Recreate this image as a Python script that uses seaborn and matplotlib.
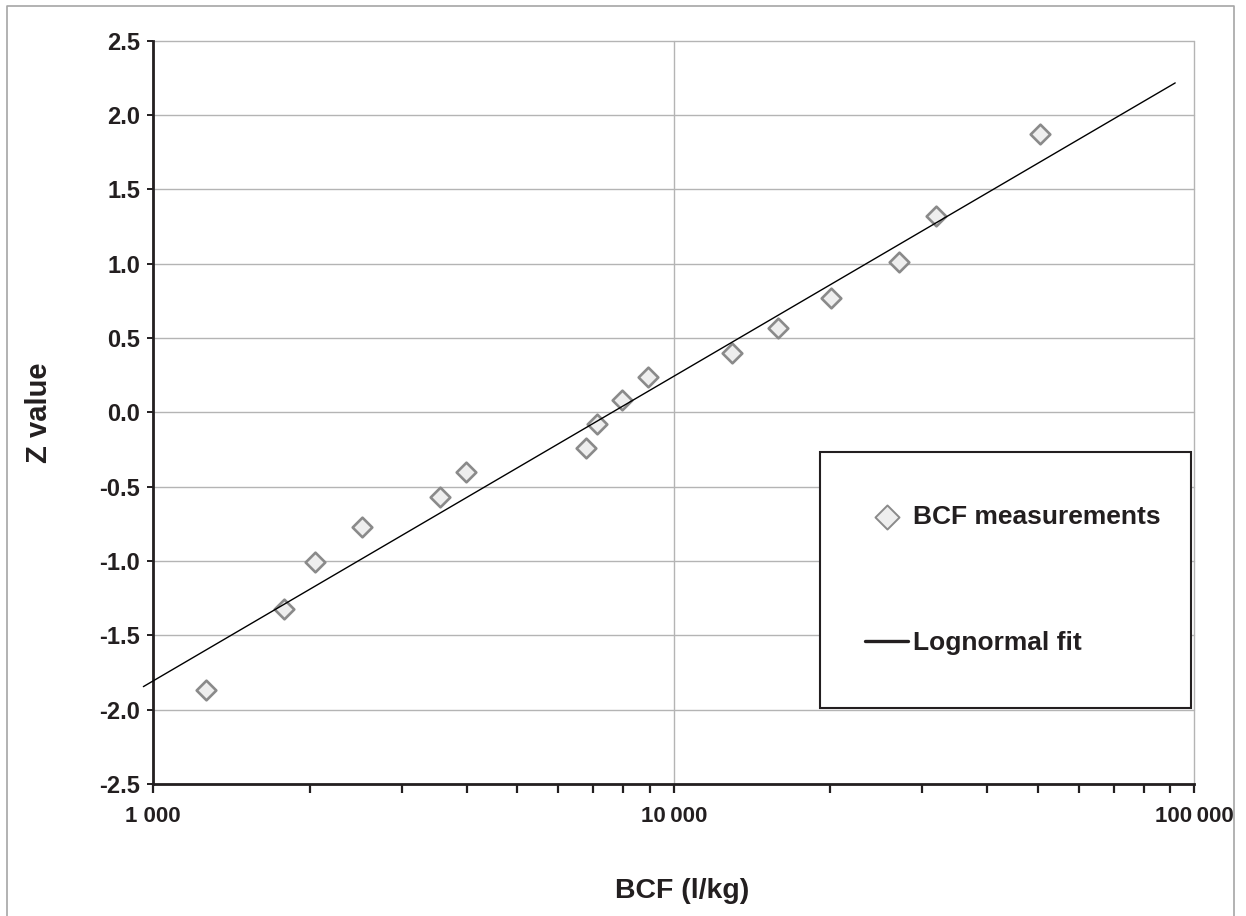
import numpy as np
import pandas as pd
import matplotlib
matplotlib.use('Agg')
import matplotlib.pyplot as plt
import seaborn as sns
from matplotlib.lines import Line2D
from matplotlib.patches import Rectangle
from matplotlib.ticker import LogLocator, NullFormatter

# ---- data ----
bcf_values = [1261, 1781, 2045, 2518, 3555, 3989, 6790, 7110,
              7962, 8933, 12920, 15880, 20030, 27080, 31840, 50530]
z_values = [-1.87, -1.32, -1.01, -0.77, -0.57, -0.40, -0.24, -0.08,
            0.08, 0.24, 0.40, 0.57, 0.77, 1.01, 1.32, 1.87]
fit_bcf = [957, 91900]
fit_z = [-1.845, 2.216]
xtick_values = [1000, 10000, 100000]
xtick_labels = ['1 000', '10\u2009000', '100\u2009000']
ytick_values = [-2.5, -2.0, -1.5, -1.0, -0.5, 0.0, 0.5, 1.0, 1.5, 2.0, 2.5]
ytick_labels = ['-2.5', '-2.0', '-1.5', '-1.0', '-0.5', '0.0', '0.5', '1.0', '1.5', '2.0', '2.5']

sns.set_theme(style='white')
plt.rcParams['font.family'] = ['Liberation Sans', 'DejaVu Sans']
plt.rcParams['font.weight'] = 'bold'

W, H = 1246, 916
fig = plt.figure(figsize=(W / 100, H / 100), dpi=100)
L, R, T, B = 153.3, 1194.3, 40.7, 784.0
ax = fig.add_axes([L / W, 1 - B / H, (R - L) / W, (B - T) / H])

dark = '#231f20'
gridc = '#b4b4b4'

df_pts = pd.DataFrame({'BCF': bcf_values, 'Z': z_values})
df_fit = pd.DataFrame({'BCF': fit_bcf, 'Z': fit_z})

ax.set_xscale('log')
sns.scatterplot(data=df_pts, x='BCF', y='Z', marker='D', s=100, color='#eeeeee',
                edgecolor='#8a8a8a', linewidth=1.9, label='BCF measurements',
                ax=ax, zorder=3)
sns.lineplot(data=df_fit, x='BCF', y='Z', color='black', linewidth=1.0,
             label='Lognormal fit', ax=ax, zorder=4)
ax.lines[-1].set_clip_on(False)

ax.set_xlim(1000, 100000)
ax.set_ylim(-2.5, 2.5)

ax.set_xticks(xtick_values, xtick_labels)
ax.set_yticks(ytick_values, ytick_labels)
ax.xaxis.set_minor_locator(LogLocator(base=10, subs=np.arange(2, 10)))
ax.xaxis.set_minor_formatter(NullFormatter())

for lbl in ax.get_xticklabels():
    lbl.set_fontsize(16)
    lbl.set_fontweight('bold')
    lbl.set_color(dark)
for lbl in ax.get_yticklabels():
    lbl.set_fontsize(17)
    lbl.set_fontweight('bold')
    lbl.set_color(dark)

ax.tick_params(axis='x', which='both', bottom=True, direction='out', length=6.3,
               width=1.6, color=dark, pad=9.5)
ax.tick_params(axis='y', which='major', left=True, direction='out', length=4.5,
               width=1.4, color=dark, pad=5)

ax.set_axisbelow(True)
ax.yaxis.grid(True, color=gridc, lw=1.0)
ax.xaxis.grid(True, which='major', color=gridc, lw=1.0)
ax.xaxis.grid(False, which='minor')
for gl in ax.get_ygridlines() + ax.get_xgridlines():
    gl.set_clip_on(False)

for side in ['top', 'right']:
    ax.spines[side].set_visible(False)
for side in ['left', 'bottom']:
    ax.spines[side].set_color(dark)
    ax.spines[side].set_linewidth(2.0)

ax.set_xlabel('BCF (l/kg)', fontsize=20.5, fontweight='bold', color=dark)
ax.xaxis.set_label_coords((682 - L) / (R - L), (B - 891) / (B - T))
ax.xaxis.label.set_va('center')
ax.set_ylabel('Z value', fontsize=21, fontweight='bold', color=dark)
ax.yaxis.set_label_coords((39 - L) / (R - L), 0.5)
ax.yaxis.label.set_va('center')

# legend box
box = Rectangle((820 / W, 1 - 708 / H), (1191 - 820) / W, (708 - 452) / H,
                transform=fig.transFigure, facecolor='white', edgecolor=dark,
                lw=1.5, zorder=4.5, clip_on=False)
ax.add_patch(box)

leg = ax.legend(loc='center', bbox_to_anchor=(1013 / W, 1 - 580 / H),
                bbox_transform=fig.transFigure, frameon=False,
                prop={'size': 19, 'weight': 'bold'}, handlelength=1.6,
                handletextpad=0.2, borderpad=0, labelspacing=3.88)
leg.set_zorder(6)
for t in leg.get_texts():
    t.set_color(dark)
for ln in leg.get_lines():
    ln.set_linewidth(2.4)
    ln.set_color(dark)
try:
    h0 = leg.legend_handles[0]
    h0.set_sizes([150])
    h0.set_linewidth(1.4)
except Exception:
    pass

# outer frame
fig.add_artist(Line2D([7 / W, 7 / W, 1234 / W, 1234 / W],
                      [0, 1 - 6 / H, 1 - 6 / H, 0],
                      transform=fig.transFigure, color='#a6a6a6', lw=1.2))

fig.savefig('out.png', dpi=100)
